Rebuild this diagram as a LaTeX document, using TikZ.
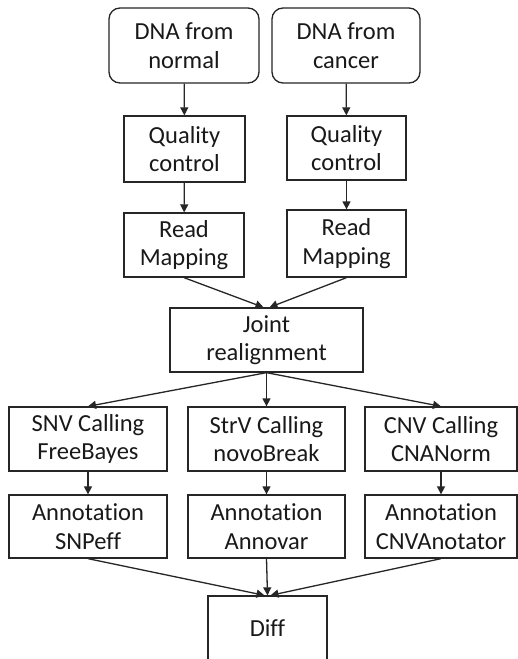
\documentclass[tikz,border=0pt]{standalone}
\usepackage{fontspec}
\setmainfont[Ligatures={NoCommon},RawFeature={-calt}]{Carlito}
\usetikzlibrary{arrows.meta}
\newcommand{\anno}{Annotat\kern0pt ion}
\begin{document}
\begin{tikzpicture}[x=1pt,y=-1pt,
  box/.style={draw=black!85,line width=1.3pt,align=center,inner sep=0pt,
    font=\fontsize{24.5}{28.5}\selectfont,text=black!90},
  rbox/.style={box,rounded corners=11pt},
  conn/.style={draw=black!85,line width=1.3pt,-{Triangle[length=8pt,width=8pt]}}]
\clip (0,0) rectangle (518,659);
\fill[white] (0,0) rectangle (518,659);
\node[rbox,minimum width=150pt,minimum height=75pt] (dn) at (184,45.5) {DNA from\\normal};
\node[rbox,minimum width=148pt,minimum height=75pt] (dc) at (346,45.5) {DNA from\\cancer};
\node[box,minimum width=121pt,minimum height=66pt] (qn) at (184.5,149) {Quality\\control};
\node[box,minimum width=119pt,minimum height=64pt] (qc) at (346.5,148) {Quality\\control};
\node[box,minimum width=120pt,minimum height=64pt] (rn) at (184,245) {Read\\Mapping};
\node[box,minimum width=119pt,minimum height=67pt] (rc) at (346.5,243.5) {Read\\Mapping};
\node[box,minimum width=193pt,minimum height=64pt] (j) at (266.5,340) {Joint\\realignment};
\node[box,minimum width=158pt,minimum height=64pt] (s1) at (88,439) {SNV Calling\\FreeBayes};
\node[box,minimum width=157pt,minimum height=64pt] (s2) at (266.5,439) {StrV Calling\\novoBreak};
\node[box,minimum width=152pt,minimum height=64pt] (s3) at (441,439) {CNV Calling\\CNANorm};
\node[box,minimum width=158pt,minimum height=63pt] (a1) at (88,526.5) {\anno\\SNPeff};
\node[box,minimum width=157pt,minimum height=63pt] (a2) at (266.5,526.5) {\anno\\Annovar};
\node[box,minimum width=152pt,minimum height=63pt] (a3) at (441,526.5) {\anno\\CNVAnotator};
\node[box,minimum width=119pt,minimum height=64pt] (d) at (267.5,628) {Diff};
\draw[conn] (dn) -- (qn);
\draw[conn] (dc) -- (qc);
\draw[conn] (qn) -- (rn);
\draw[conn] (qc) -- (rc);
\draw[conn] (rn.south) -- ([xshift=-3pt]j.north);
\draw[conn] (rc.south) -- ([xshift=3pt]j.north);
\draw[conn] (j.south) -- (s1.north);
\draw[conn] (j.south) -- (s2.north);
\draw[conn] (j.south) -- (s3.north);
\draw[conn] (s1) -- (a1);
\draw[conn] (s2) -- (a2);
\draw[conn] (s3) -- (a3);
\draw[conn] (a1.south) -- ([xshift=-3pt]d.north);
\draw[conn] (a2.south) -- (d.north);
\draw[conn] (a3.south) -- ([xshift=3pt]d.north);
\end{tikzpicture}
\end{document}
